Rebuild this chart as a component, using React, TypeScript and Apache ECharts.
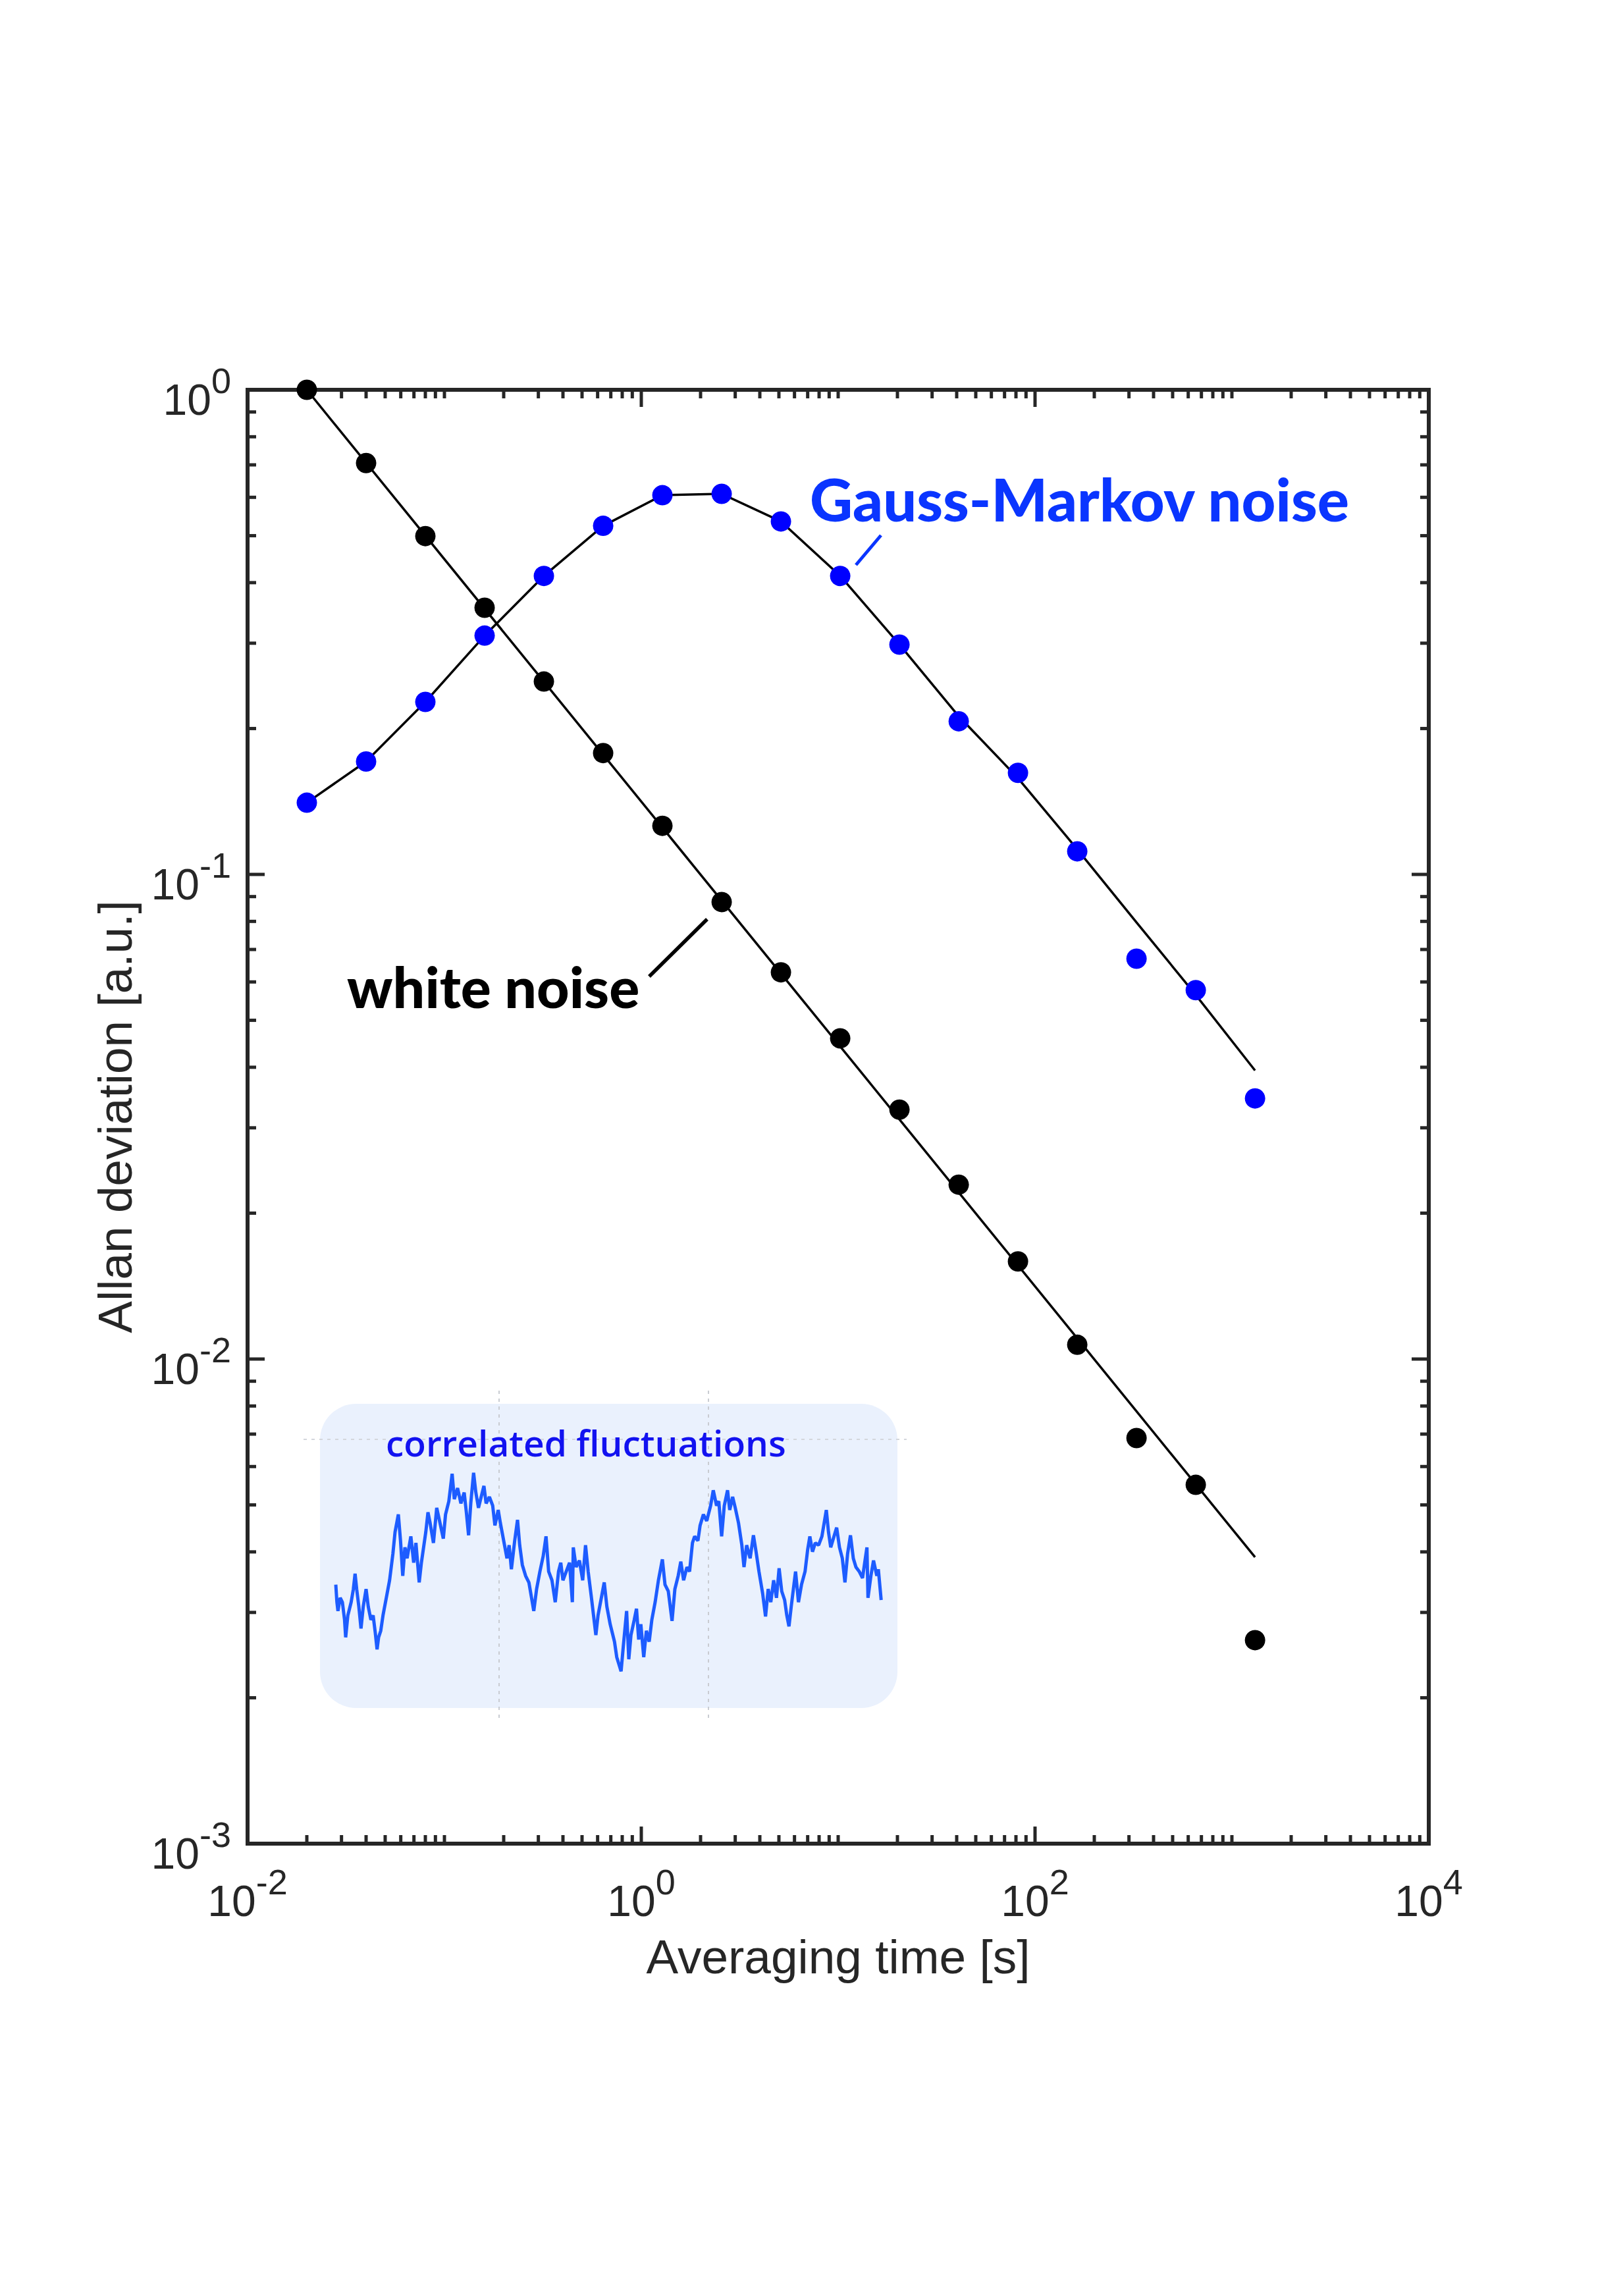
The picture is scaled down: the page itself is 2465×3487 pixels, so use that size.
import React, { useEffect, useRef } from 'react';
import * as echarts from 'echarts';

// ---- data ----
const tau = [0.02, 0.04, 0.08, 0.16, 0.32, 0.64, 1.28, 2.56, 5.12, 10.24, 20.48, 40.96, 81.92, 163.84, 327.68, 655.36, 1310.72];
const whiteNoiseDots = [1.0, 0.706, 0.499, 0.355, 0.25, 0.178, 0.126, 0.0877, 0.0628, 0.0459, 0.0327, 0.0229, 0.0159, 0.0107, 0.00687, 0.0055, 0.00263];
const whiteNoiseFitTau = [0.02, 1310.72];
const whiteNoiseFit = [1.0, 0.0039];
const gaussMarkovDots = [0.1406, 0.171, 0.227, 0.311, 0.413, 0.524, 0.606, 0.61, 0.535, 0.413, 0.298, 0.207, 0.162, 0.1116, 0.067, 0.0577, 0.0345];
const gaussMarkovFit = [0.1406, 0.171, 0.227, 0.311, 0.413, 0.524, 0.606, 0.61, 0.535, 0.413, 0.298, 0.212, 0.158, 0.1127, 0.0796, 0.0564, 0.0394];

const xLabelExponents = [-2, 0, 2, 4];
const yLabelExponents = [-3, -2, -1, 0];
const xMajorTicks = [1, 100];
const yMajorTicks = [0.01, 0.1];
const minorMultipliers = [2, 3, 4, 5, 6, 7, 8, 9];
const xDecades = [0.01, 0.1, 1, 10, 100, 1000];
const yDecades = [0.001, 0.01, 0.1];
const xOddDecadeTicks = [0.1, 10, 1000];

// inset trace: [time, amplitude]
const insetSignal = [
  [1.0, 0.433], [1.17, 0.167], [1.33, 0.033], [1.67, 0.233], [2.0, 0.167], [2.33, -0.1], [2.5, -0.367], [2.83, -0.033],
  [3.33, 0.167], [3.67, 0.367], [3.93, 0.6], [4.17, 0.367], [4.5, 0.1], [4.83, -0.233], [5.17, 0.1], [5.6, 0.367],
  [5.93, 0.1], [6.33, -0.1], [6.67, -0.033], [7.0, -0.3], [7.27, -0.55], [7.5, -0.367], [7.83, -0.267], [8.17, -0.033],
  [8.67, 0.233], [9.17, 0.5], [9.67, 0.9], [10.0, 1.233], [10.5, 1.5], [10.83, 1.1], [11.17, 0.567], [11.5, 1.0],
  [11.83, 0.833], [12.4, 1.167], [12.83, 0.767], [13.17, 1.067], [13.67, 0.467], [14.0, 0.767], [14.67, 1.233], [15.0, 1.533],
  [15.33, 1.367], [15.83, 1.067], [16.33, 1.6], [16.83, 1.367], [17.33, 1.133], [17.67, 1.5], [18.17, 1.7], [18.67, 2.117],
  [19.0, 1.733], [19.5, 1.9], [20.0, 1.667], [20.5, 1.833], [20.83, 1.533], [21.17, 1.183], [21.5, 1.667], [21.93, 2.133],
  [22.27, 1.833], [22.67, 1.6], [23.0, 1.733], [23.5, 1.933], [23.83, 1.667], [24.33, 1.767], [24.83, 1.633], [25.17, 1.333],
  [25.67, 1.567], [26.0, 1.367], [26.5, 1.1], [27.0, 0.833], [27.33, 1.033], [27.67, 0.667], [28.17, 1.1], [28.6, 1.417],
  [28.93, 1.033], [29.33, 0.733], [29.83, 0.567], [30.33, 0.467], [30.73, 0.233], [31.07, 0.033], [31.5, 0.367], [32.0, 0.633],
  [32.5, 0.867], [32.93, 1.167], [33.33, 0.633], [33.83, 0.5], [34.33, 0.167], [34.83, 0.633], [35.17, 0.767], [35.5, 0.5],
  [36.0, 0.633], [36.5, 0.767], [36.93, 0.167], [37.07, 1.0], [37.5, 0.7], [38.0, 0.8], [38.5, 0.5], [38.93, 1.033],
  [39.33, 0.633], [39.83, 0.233], [40.5, -0.333], [40.83, -0.033], [41.33, 0.233], [41.77, 0.467], [42.17, 0.1], [42.67, -0.167],
  [43.33, -0.433], [43.67, -0.667], [44.33, -0.883], [44.67, -0.5], [45.17, 0.033], [45.5, -0.7], [45.83, -0.333], [46.33, -0.1],
  [46.67, 0.067], [47.0, -0.4], [47.33, -0.167], [47.77, -0.667], [48.17, -0.267], [48.6, -0.433], [49.0, -0.1], [49.5, 0.167],
  [50.0, 0.5], [50.6, 0.817], [51.0, 0.433], [51.5, 0.333], [52.07, -0.117], [52.5, 0.367], [53.0, 0.567], [53.4, 0.783],
  [53.83, 0.5], [54.33, 0.7], [54.73, 0.633], [55.17, 1.067], [55.5, 1.167], [56.0, 1.1], [56.33, 1.333], [56.83, 1.5],
  [57.33, 1.4], [57.93, 1.633], [58.33, 1.867], [58.83, 1.633], [59.17, 1.7], [59.6, 1.167], [60.0, 1.633], [60.5, 1.867],
  [60.83, 1.567], [61.27, 1.767], [61.67, 1.6], [62.17, 1.367], [62.67, 1.033], [63.0, 0.7], [63.4, 1.033], [63.93, 0.833],
  [64.43, 1.183], [64.83, 0.933], [65.27, 0.633], [65.83, 0.3], [66.27, -0.05], [66.67, 0.367], [67.07, 0.167], [67.5, 0.5],
  [67.93, 0.233], [68.33, 0.683], [68.73, 0.333], [69.17, 0.2], [69.5, -0.033], [69.83, -0.2], [70.17, 0.1], [70.5, 0.367],
  [70.83, 0.633], [71.27, 0.167], [71.73, 0.433], [72.27, 0.633], [72.67, 0.967], [73.0, 1.167], [73.4, 0.933], [73.83, 1.067],
  [74.33, 1.033], [74.83, 1.167], [75.5, 1.567], [75.83, 1.233], [76.17, 1.0], [76.67, 1.167], [77.07, 1.3], [77.5, 1.0],
  [77.93, 0.833], [78.33, 0.467], [78.73, 0.9], [79.17, 1.183], [79.6, 0.833], [80.0, 0.7], [80.5, 0.633], [81.0, 0.533],
  [81.33, 0.767], [81.67, 1.0], [81.83, 0.233], [82.27, 0.567], [82.67, 0.8], [83.17, 0.567], [83.4, 0.667], [83.83, 0.2],
];

const AXIS_COLOR = '#262626';
const LABEL_FONT = '"Liberation Sans", Arial, Helvetica, sans-serif';

function buildTicks() {
  const ticks: number[][] = [];
  xMajorTicks.forEach((v) => ticks.push([v, 0.01, 0, 1]));
  xOddDecadeTicks.forEach((v) => ticks.push([v, 0.01, 0, 0]));
  xDecades.forEach((d) => minorMultipliers.forEach((m) => ticks.push([d * m, 0.01, 0, 0])));
  yMajorTicks.forEach((v) => ticks.push([1, v, 1, 1]));
  yDecades.forEach((d) => minorMultipliers.forEach((m) => ticks.push([1, d * m, 1, 0])));
  return ticks;
}

const richLabel = {
  b: { fontSize: 66, fontFamily: LABEL_FONT, color: AXIS_COLOR, padding: [30, 0, 0, 0] },
  e: { fontSize: 54, fontFamily: LABEL_FONT, color: AXIS_COLOR, padding: [0, 0, 28, 0] },
};

function expFormatter(allowed: number[]) {
  return (v: number) => {
    const e = Math.round(Math.log10(v));
    if (allowed.indexOf(e) < 0) return '';
    return `{b|10}{e|${e}}`;
  };
}

export default function App() {
  const ref = useRef<HTMLDivElement>(null);
  useEffect(() => {
    if (!ref.current) return;
    const chart = echarts.init(ref.current, undefined, { renderer: 'svg' });
    const tickStyle = { stroke: AXIS_COLOR, lineWidth: 5 };
    const option: any = {
      animation: false,
      backgroundColor: '#ffffff',
      grid: [
        {
          left: 376, top: 592, width: 1794, height: 2208,
          show: true, borderColor: AXIS_COLOR, borderWidth: 6, backgroundColor: 'transparent',
        },
        { left: 500, top: 2150, width: 900, height: 500, show: false },
      ],
      xAxis: [
        {
          type: 'log', logBase: 10, min: 0.01, max: 10000, gridIndex: 0, splitNumber: 6,
          axisLine: { show: false }, axisTick: { show: false }, splitLine: { show: false },
          axisLabel: { margin: 24, formatter: expFormatter(xLabelExponents), rich: richLabel },
          name: 'Averaging time [s]', nameLocation: 'middle', nameGap: 135,
          nameTextStyle: { fontSize: 73, fontFamily: LABEL_FONT, color: AXIS_COLOR },
        },
        { type: 'value', gridIndex: 1, min: 0, max: 90, show: false },
      ],
      yAxis: [
        {
          type: 'log', logBase: 10, min: 0.001, max: 1, gridIndex: 0,
          axisLine: { show: false }, axisTick: { show: false }, splitLine: { show: false },
          axisLabel: { margin: 25, formatter: expFormatter(yLabelExponents), rich: richLabel },
          name: 'Allan deviation [a.u.]', nameLocation: 'middle', nameGap: 165, nameRotate: 90,
          nameTextStyle: { fontSize: 73, fontFamily: LABEL_FONT, color: AXIS_COLOR },
        },
        { type: 'value', gridIndex: 1, min: -2, max: 3, show: false },
      ],
      graphic: [
        { type: 'rect', z: 0, shape: { x: 486, y: 2132, width: 877, height: 462, r: 55 }, style: { fill: '#eaf1fd' } },
        { type: 'line', z: 1, shape: { x1: 758, y1: 2112, x2: 758, y2: 2611 }, style: { stroke: '#c9ccd2', lineWidth: 2, lineDash: [5, 7] } },
        { type: 'line', z: 1, shape: { x1: 1076, y1: 2112, x2: 1076, y2: 2611 }, style: { stroke: '#c9ccd2', lineWidth: 2, lineDash: [5, 7] } },
        { type: 'line', z: 1, shape: { x1: 461, y1: 2186, x2: 1377, y2: 2186 }, style: { stroke: '#d3d6dc', lineWidth: 2, lineDash: [5, 7] } },
        {
          type: 'text', z: 10, x: 586, y: 2190,
          style: { text: 'correlated fluctuations', fontSize: 55, fontWeight: 600, fontFamily: '"Open Sans", "Noto Sans", sans-serif', fill: '#1212f0', align: 'left', verticalAlign: 'middle' },
        },
        {
          type: 'text', z: 10, x: 1230, y: 757,
          style: { text: 'Gauss-Markov noise', fontSize: 90, fontWeight: 900, fontFamily: 'Lato, "DejaVu Sans", sans-serif', fill: '#0a35ff', align: 'left', verticalAlign: 'middle' },
        },
        { type: 'line', z: 10, shape: { x1: 1338, y1: 813, x2: 1300, y2: 858 }, style: { stroke: '#0a35ff', lineWidth: 5 } },
        {
          type: 'text', z: 10, x: 527, y: 1497,
          style: { text: 'white noise', fontSize: 86, fontWeight: 900, fontFamily: 'Lato, "DejaVu Sans", sans-serif', fill: '#000000', align: 'left', verticalAlign: 'middle' },
        },
        { type: 'line', z: 10, shape: { x1: 1074, y1: 1396, x2: 986, y2: 1483 }, style: { stroke: '#000000', lineWidth: 5.5 } },
      ],
      series: [
        {
          type: 'custom', name: 'ticks', xAxisIndex: 0, yAxisIndex: 0, clip: false, silent: true, z: 3,
          data: buildTicks(),
          renderItem: (params: any, api: any) => {
            const cs = params.coordSys;
            const len = api.value(3) ? 26 : 13;
            if (api.value(2) === 0) {
              const x = api.coord([api.value(0), 0.01])[0];
              const yb = cs.y + cs.height;
              const yt = cs.y;
              return {
                type: 'group', children: [
                  { type: 'line', shape: { x1: x, y1: yb, x2: x, y2: yb - len }, style: tickStyle },
                  { type: 'line', shape: { x1: x, y1: yt, x2: x, y2: yt + len }, style: tickStyle },
                ],
              };
            }
            const y = api.coord([1, api.value(1)])[1];
            const xl = cs.x;
            const xr = cs.x + cs.width;
            return {
              type: 'group', children: [
                { type: 'line', shape: { x1: xl, y1: y, x2: xl + len, y2: y }, style: tickStyle },
                { type: 'line', shape: { x1: xr, y1: y, x2: xr - len, y2: y }, style: tickStyle },
              ],
            };
          },
        },
        {
          type: 'line', name: 'white noise fit', xAxisIndex: 0, yAxisIndex: 0, z: 2,
          data: whiteNoiseFitTau.map((t, i) => [t, whiteNoiseFit[i]]),
          showSymbol: false, lineStyle: { color: '#000000', width: 3.5 },
        },
        {
          type: 'line', name: 'Gauss-Markov fit', xAxisIndex: 0, yAxisIndex: 0, z: 2,
          data: tau.map((t, i) => [t, gaussMarkovFit[i]]),
          showSymbol: false, lineStyle: { color: '#000000', width: 3.5 },
        },
        {
          type: 'scatter', name: 'white noise', xAxisIndex: 0, yAxisIndex: 0, z: 4,
          data: tau.map((t, i) => [t, whiteNoiseDots[i]]),
          symbolSize: 31, itemStyle: { color: '#000000', opacity: 1 },
        },
        {
          type: 'scatter', name: 'Gauss-Markov noise', xAxisIndex: 0, yAxisIndex: 0, z: 4,
          data: tau.map((t, i) => [t, gaussMarkovDots[i]]),
          symbolSize: 31, itemStyle: { color: '#0000ff', opacity: 1 },
        },
        {
          type: 'line', name: 'correlated fluctuations', xAxisIndex: 1, yAxisIndex: 1, z: 3,
          data: insetSignal, showSymbol: false,
          lineStyle: { color: '#1d5cff', width: 5 },
        },
      ],
    };
    chart.setOption(option);
    return () => chart.dispose();
  }, []);
  return (
    <div
      ref={ref}
      style={{ position: 'absolute', left: 0, top: 0, width: 2465, height: 3487, background: '#ffffff' }}
    />
  );
}
